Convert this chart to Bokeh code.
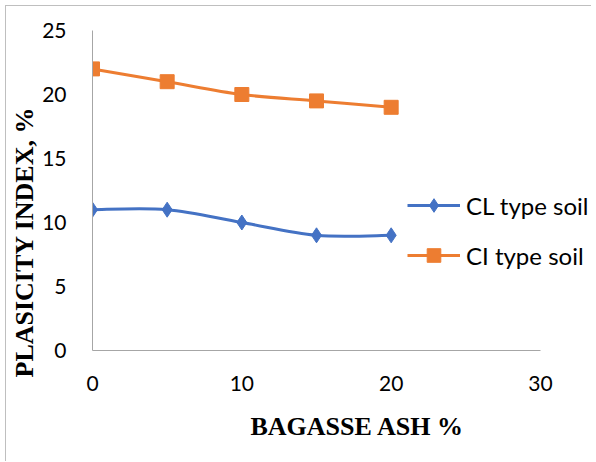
import numpy as np
from bokeh.plotting import figure
from bokeh.models import Range1d, FixedTicker, Legend, LegendItem, Title
from bokeh.embed import file_html
from bokeh.resources import INLINE

# data
bagasse_ash = [0, 5, 10, 15, 20]
cl_soil = [11, 11, 10, 9, 9]
ci_soil = [22, 21, 20, 19.5, 19]
x_ticks = [0, 10, 20, 30]
y_ticks = [0, 5, 10, 15, 20, 25]
series_names = ["CL type soil", "CI type soil"]

BLUE = "#4472C4"
ORANGE = "#ED7D31"
AXIS = "#a6a6a6"

W, H = 586, 456
LEFT, TOP, BOTTOM = 86, 24, 112
AXIS_PX = 448  # pixel length of 0..30 on the x axis
x_end = 30 * (W - LEFT) / AXIS_PX

p = figure(width=W, height=H, output_backend="svg", toolbar_location=None,
           x_range=Range1d(0, x_end), y_range=Range1d(0, 25),
           min_border_left=LEFT, min_border_right=0, min_border_top=TOP,
           min_border_bottom=BOTTOM)
p.styles = {"border-left": "1px solid #bfbfbf", "border-top": "1px solid #bfbfbf",
            "margin-left": "5px", "margin-top": "5px"}
p.grid.visible = False
p.outline_line_color = None

for ax, ticks, bounds in ((p.xaxis[0], x_ticks, (0, 30)), (p.yaxis[0], y_ticks, (0, 25))):
    ax.ticker = FixedTicker(ticks=ticks)
    ax.bounds = bounds
    ax.axis_line_color = AXIS
    ax.axis_line_width = 1
    ax.major_tick_line_color = None
    ax.minor_tick_line_color = None
    ax.major_tick_in = 0
    ax.major_tick_out = 0
    ax.major_label_text_font = "Lato"
    ax.major_label_text_font_size = "21px"
    ax.major_label_text_color = "#000000"
p.xaxis.major_label_standoff = 25
p.yaxis.major_label_standoff = 26


def smooth_segments(xs, ys):
    xs = np.asarray(xs, float)
    ys = np.asarray(ys, float)
    n = len(xs)
    x0, y0, x1, y1, cx0, cy0, cx1, cy1 = ([] for _ in range(8))
    for i in range(n - 1):
        ip = max(i - 1, 0)
        inn = min(i + 2, n - 1)
        x0.append(xs[i]); y0.append(ys[i])
        x1.append(xs[i + 1]); y1.append(ys[i + 1])
        cx0.append(xs[i] + (xs[i + 1] - xs[ip]) / 6)
        cy0.append(ys[i] + (ys[i + 1] - ys[ip]) / 6)
        cx1.append(xs[i + 1] - (xs[inn] - xs[i]) / 6)
        cy1.append(ys[i + 1] - (ys[inn] - ys[i]) / 6)
    return dict(x0=x0, y0=y0, x1=x1, y1=y1, cx0=cx0, cy0=cy0, cx1=cx1, cy1=cy1)


items = []
for ys, color, marker, size, name in (
        (cl_soil, BLUE, "diamond", 15, series_names[0]),
        (ci_soil, ORANGE, "square", 14, series_names[1])):
    seg = smooth_segments(bagasse_ash, ys)
    b = p.bezier(line_color=color, line_width=3, **seg)
    s = p.scatter(bagasse_ash, ys, marker=marker, size=size,
                  fill_color=color, line_color=color)
    items.append(LegendItem(label=name, renderers=[b, s]))

legend = Legend(items=items, location=(315, 78), padding=0, margin=0,
                border_line_color=None, background_fill_alpha=0,
                glyph_width=53, glyph_height=34, label_height=34,
                label_standoff=6, spacing=16,
                label_text_font="Lato", label_text_font_size="24px",
                label_text_color="#000000")
p.add_layout(legend, "center")

xt = Title(text="BAGASSE ASH %", align="left", offset=158, standoff=32,
           text_font="Liberation Serif", text_font_style="bold", text_font_size="26px",
           text_color="#000000")
yt = Title(text="PLASICITY INDEX, %", align="left", offset=-27, standoff=2,
           vertical_align="bottom",
           text_font="Liberation Serif", text_font_style="bold", text_font_size="26px",
           text_color="#000000")
p.add_layout(xt, "below")
p.add_layout(yt, "left")

open("out.html", "w").write(file_html(p, INLINE))
